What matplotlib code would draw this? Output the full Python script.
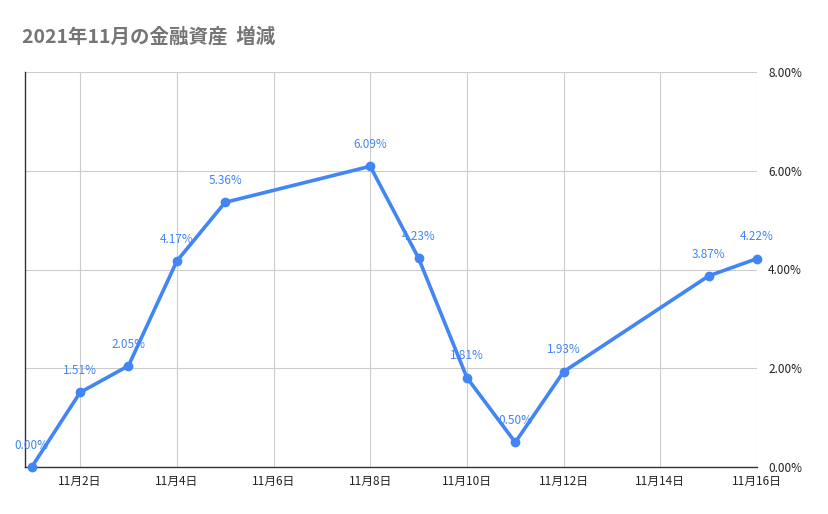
import matplotlib
matplotlib.use("Agg")
import matplotlib.pyplot as plt
from matplotlib.ticker import FuncFormatter, MultipleLocator

plt.rcParams['font.family'] = ['Noto Sans CJK JP', 'DejaVu Sans']

days = [1, 2, 3, 4, 5, 8, 9, 10, 11, 12, 15, 16]
values = [0.00, 1.51, 2.05, 4.17, 5.36, 6.09, 4.23, 1.81, 0.50, 1.93, 3.87, 4.22]
tick_days = [2, 4, 6, 8, 10, 12, 14, 16]
tick_labels = [f"11月{d}日" for d in tick_days]
title = "2021年11月の金融資産  増減"

blue = "#4285F4"
fig = plt.figure(figsize=(8.29, 5.14), dpi=100)
ax = fig.add_axes([25/829, 47/514, (757-25)/829, (467-72)/514])

ax.plot(days, values, color=blue, lw=2.6, marker='o', ms=6, zorder=3, clip_on=False)
for d, v in zip(days, values):
    ax.annotate(f"{v:.2f}%", (d, v), xytext=(0, 11), textcoords='offset points',
                ha='center', va='bottom', color=blue, fontsize=8.5)

ax.set_xlim(0.86, 16.0)
ax.set_ylim(0, 8)
ax.set_xticks(tick_days)
ax.set_xticklabels(tick_labels)
ax.yaxis.set_major_locator(MultipleLocator(2))
ax.yaxis.set_major_formatter(FuncFormatter(lambda v, p: f"{v:.2f}%"))
ax.yaxis.tick_right()
ax.tick_params(axis='both', length=0, labelsize=8.5, colors='#222222')
ax.tick_params(axis='y', pad=8)
ax.tick_params(axis='x', pad=6)
ax.grid(True, color='#cccccc', lw=0.8)
ax.set_axisbelow(True)
for s in ['top', 'right']:
    ax.spines[s].set_visible(False)
ax.spines['left'].set_color('#333333')
ax.spines['bottom'].set_color('#333333')
ax.spines['left'].set_linewidth(1.0)
ax.spines['bottom'].set_linewidth(1.0)

fig.text(22/829, 1 - 37/514, title, fontsize=14, fontweight='bold', color='#757575',
         va='center', ha='left')

fig.savefig("out.png", dpi=100)
